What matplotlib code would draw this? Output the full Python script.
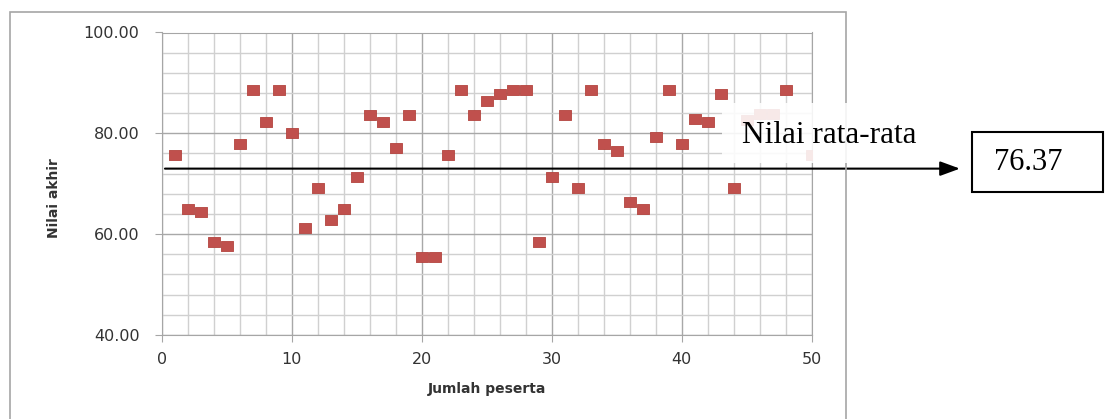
import matplotlib
matplotlib.use("Agg")
import matplotlib.pyplot as plt
from matplotlib.patches import Rectangle
from matplotlib.ticker import MultipleLocator

# data
peserta = [1, 2, 3, 4, 5, 6, 7, 8, 9, 10,
           11, 12, 13, 14, 15, 16, 17, 18, 19, 20,
           21, 22, 23, 24, 25, 26, 27, 28, 29, 30,
           31, 32, 33, 34, 35, 36, 37, 38, 39, 40,
           41, 42, 43, 44, 45, 46, 47, 48, 50]
nilai = [75.8, 65.0, 64.3, 58.5, 57.7, 77.8, 88.6, 82.2, 88.6, 80.0,
         61.3, 69.2, 62.8, 65.0, 71.4, 83.7, 82.2, 77.1, 83.7, 55.5,
         55.5, 75.8, 88.6, 83.7, 86.5, 87.9, 88.6, 88.6, 58.5, 71.4,
         83.7, 69.2, 88.6, 77.8, 76.5, 66.3, 65.0, 79.2, 88.6, 77.8,
         82.9, 82.2, 87.9, 69.2, 82.6, 83.9, 83.9, 88.6, 75.8]
rata_label = "76.37"
garis_rata = 73.0   # where the mean line is drawn in the picture

W, H = 1108, 419
fig = plt.figure(figsize=(W / 100, H / 100), dpi=100)

def fx(px):
    return px / W

def fy(py):
    return 1 - py / H

# outer chart frame
fig.patches.append(Rectangle((fx(10), fy(430)), fx(846) - fx(10), fy(12) - fy(430),
                             transform=fig.transFigure, fill=False,
                             edgecolor="#a6a6a6", lw=1.2, zorder=0))

ax = fig.add_axes([fx(161.7), fy(335), fx(811.7) - fx(161.7), fy(32.5) - fy(335)])
ax.set_xlim(0, 50)
ax.set_ylim(40, 100)

ax.xaxis.set_major_locator(MultipleLocator(10))
ax.xaxis.set_minor_locator(MultipleLocator(2))
ax.yaxis.set_major_locator(MultipleLocator(20))
ax.yaxis.set_minor_locator(MultipleLocator(4))
ax.grid(which="major", color="#a8a8a8", lw=1.0)
ax.grid(which="minor", color="#d0d0d0", lw=1.0)
ax.set_axisbelow(True)
for s in ax.spines.values():
    s.set_color("#a6a6a6")
ax.tick_params(which="major", length=5, color="#a6a6a6", labelsize=11.5,
               labelcolor="#333333")
ax.tick_params(axis="y", pad=11)
ax.tick_params(axis="x", pad=7)
ax.tick_params(which="minor", length=0)
ax.yaxis.set_major_formatter(lambda v, p: f"{v:.2f}")

ax.set_xlabel("Jumlah peserta", fontsize=10, fontweight="bold", color="#333333")
ax.xaxis.set_label_coords(0.5, -0.155)
ax.set_ylabel("Nilai akhir", fontsize=10, fontweight="bold", color="#333333")
ax.yaxis.set_label_coords(-0.155, 0.453)

rect_marker = [(-1.27, -1), (1.27, -1), (1.27, 1), (-1.27, 1), (-1.27, -1)]
ax.plot(peserta, nilai, ls="none", marker=rect_marker, ms=9,
        mfc="#C0504D", mec="#B3443F", mew=0.6, zorder=3)

# mean line with arrow
ax.annotate("", xy=(61.4, garis_rata), xytext=(0.25, garis_rata),
            xycoords="data", annotation_clip=False,
            arrowprops=dict(arrowstyle="-|>,head_length=0.6,head_width=0.22",
                            color="black", lw=1.5, mutation_scale=20,
                            shrinkA=0, shrinkB=0))

# semi-transparent white box behind label
fig.patches.append(Rectangle((fx(722), fy(163)), fx(925) - fx(722), fy(103) - fy(163),
                             transform=fig.transFigure, facecolor="white",
                             edgecolor="none", alpha=0.88, zorder=2))
fig.text(fx(742), fy(143), "Nilai rata-rata", family="Liberation Serif",
         fontsize=22.5, ha="left", va="baseline", zorder=3)

# value box
fig.patches.append(Rectangle((fx(971.7), fy(191.7)), fx(1102.7) - fx(971.7),
                             fy(132.3) - fy(191.7), transform=fig.transFigure,
                             facecolor="white", edgecolor="black", lw=1.5, zorder=2))
fig.text(fx(1028), fy(163), rata_label, family="Liberation Serif",
         fontsize=22, ha="center", va="center", zorder=3)

fig.savefig("out.png", dpi=100, facecolor="white")
